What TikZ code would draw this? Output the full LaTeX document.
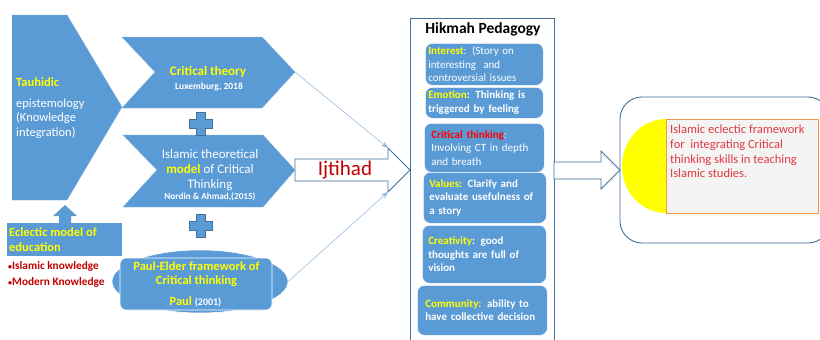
\documentclass[tikz,border=0pt]{standalone}
\usepackage{fontspec}
\setmainfont{Carlito}
\usepackage{xcolor}
\usepackage{tikz}
\usetikzlibrary{arrows.meta,positioning,shapes.geometric}
\definecolor{blub}{HTML}{5B9BD5}
\definecolor{edgb}{HTML}{41719C}
\definecolor{thinb}{HTML}{8DB3E2}
\definecolor{yelc}{HTML}{FFFF00}
\definecolor{redc}{HTML}{C00000}
\definecolor{redl}{HTML}{FF0000}
\definecolor{redt}{HTML}{E0393E}
\definecolor{orc}{HTML}{F79646}
\definecolor{grayf}{HTML}{F4F4F4}
\newcommand{\fsz}[2]{\fontsize{#1}{#2}\selectfont}
\newcommand{\yhl}[1]{\textcolor{yelc}{\bfseries #1}}
\newcommand{\sbul}{{\fsz{8}{8}•}}
\tikzset{
  ar/.style={-{Stealth[length=2.4mm,width=1.8mm]},line width=0.5pt,thinb},
  shp/.style={fill=blub,draw=blub!75!white,line width=0.4pt},
  blk/.style={draw=edgb,line width=0.9pt,fill=white},
  plusb/.style={fill=blub,draw=edgb,line width=0.8pt},
  ibox/.style={draw=white,line width=0.6pt,fill=blub,rounded corners=7pt,align=left,text=white,font=\fsz{11}{13.5},anchor=north west,minimum height=#1},
  txt/.style={text=white,inner sep=0pt,align=center}
}
\begin{document}
\begin{tikzpicture}[x=1pt,y=-1pt]
\useasboundingbox (0,0) rectangle (820,340);
\fill[white] (0,0) rectangle (820,340);
\fill[shp] (12,15) -- (67,15) -- (122,107) -- (67,200) -- (12,200) -- cycle;
\fill[shp] (122,37) -- (262,37) -- (295,72) coordinate (ctip) -- (262,108) -- (122,108) -- (155,72) -- cycle;
\fill[shp] (123,135) -- (263,135) -- (295,170) -- (263,207) -- (123,207) -- (157,170) -- cycle;
\foreach \py in {124,226}{
 \filldraw[plusb] (196.5,\py-11.5) -- (205.5,\py-11.5) -- (205.5,\py-4.5) -- (212.5,\py-4.5) -- (212.5,\py+4.5) -- (205.5,\py+4.5) -- (205.5,\py+11.5) -- (196.5,\py+11.5) -- (196.5,\py+4.5) -- (189.5,\py+4.5) -- (189.5,\py-4.5) -- (196.5,\py-4.5) -- cycle;}
\fill[blub] (59,223) -- (59,216) -- (53,216) -- (65,205) -- (77,216) -- (71,216) -- (71,223) -- cycle;
\fill[blub] (7,223) rectangle (122,256);
\node[ellipse,fill=blub,draw=white,line width=0.6pt,minimum width=176pt,minimum height=63pt,inner sep=0pt] (pel) at (200,281.5) {};
\draw[fill=blub,draw=white,line width=0.6pt,rounded corners=6pt] (120,258) rectangle (272,310);
\node[txt,anchor=west,align=left,font=\fsz{12.5}{14.5}] (tauh) at (16,108) {\yhl{Tauhidic}\\[6.5pt]epistemology\\(Knowledge\\integration)};
\node[txt,font=\fsz{13}{15}\bfseries,text=yelc] (crit) at (208,72) {Critical theory};
\node[txt,font=\fsz{9.5}{11}\bfseries] (lux) at (209,87) {Luxemburg, 2018};
\node[txt,font=\fsz{13}{15}] (islm) at (210,170) {Islamic theoretical\\\yhl{model} of Critical\\Thinking};
\node[txt,font=\fsz{9.2}{11}\bfseries] (nord) at (210,197) {Nordin \& Ahmad,(2015)};
\node[txt,font=\fsz{12.5}{14}\bfseries,text=yelc] (paul) at (196.5,274) {Paul-Elder framework of\\Critical thinking};
\node[txt,font=\fsz{12.5}{14}\bfseries] (pyr) at (195.5,302) {\textcolor{yelc}{Paul} {\fsz{10}{12}(2001)}};
\node[txt,anchor=west,align=left,font=\fsz{12.5}{15}\bfseries,text=yelc] (ecl) at (9,239.5) {Eclectic model of\\education};
\node[txt,anchor=west,align=left,font=\fsz{11.3}{16}\bfseries,text=redc] (bul) at (8,274) {\sbul Islamic knowledge\\\sbul Modern Knowledge};
\draw[blk] (295,159) -- (388,159) -- (388,148) coordinate (ijA) -- (410,170) -- (388,192) coordinate (ijB) -- (388,181) -- (295,181) -- cycle;
\node[font=\fsz{21}{24},text=redc,inner sep=0pt] (ijt) at (345,170) {Ijtihad};
\draw[ar] (ctip) -- (ijA);
\draw[ar] (pel.east) -- (ijB);
\draw[edgb,line width=0.9pt] (410,341) -- (410,18) -- (554,18) -- (554,341);
\node[font=\fsz{15.5}{18}\bfseries,inner sep=0pt] (hkt) at (483,29) {Hikmah Pedagogy};
\node[ibox=42pt,text width=112pt,inner xsep=3pt] (intr) at (425,43) {\yhl{Interest}: (Story on\\interesting\ \ and\\controversial issues};
\node[ibox=31pt,text width=112pt,inner xsep=3pt,font=\fsz{11}{13.5}\bfseries] (emot) at (425,87) {\yhl{Emotion}: Thinking is\\triggered by feeling};
\node[ibox=49pt,text width=106pt,inner xsep=7pt] (crth) at (424,123) {\textcolor{redl}{\bfseries Critical thinking}:\\Involving CT in depth\\and breath};
\node[ibox=51pt,text width=111pt,inner xsep=6pt,font=\fsz{11}{13.5}\bfseries] (valu) at (423,172) {\yhl{Values:} Clarify and\\evaluate usefulness of\\a story};
\node[ibox=58pt,text width=112pt,inner xsep=6pt,font=\fsz{11}{13.5}\bfseries] (crea) at (422,225) {\yhl{Creativity}: good\\thoughts are full of\\vision};
\node[ibox=50pt,text width=114pt,inner xsep=8pt,font=\fsz{11}{13.5}\bfseries] (comm) at (417,285) {\yhl{Community:} ability to\\have collective decision};
\draw[blk] (554,162) -- (601,162) -- (601,151) -- (620,170) -- (601,189) -- (601,179) -- (554,179) -- cycle;
\draw[edgb,line width=0.9pt,rounded corners=22pt] (620,97) rectangle (830,243);
\fill[yelc] (666,166) ellipse[x radius=44,y radius=47];
\draw[fill=grayf,draw=orc,line width=1pt] (666,119) rectangle (818,213);
\node[anchor=north west,align=left,inner sep=0pt,text=redt,font=\fsz{12.5}{14.7}] (outc) at (670,125) {Islamic eclectic framework\\for\ \ integrating Critical\\thinking skills in teaching\\Islamic studies.};
\end{tikzpicture}
\end{document}
